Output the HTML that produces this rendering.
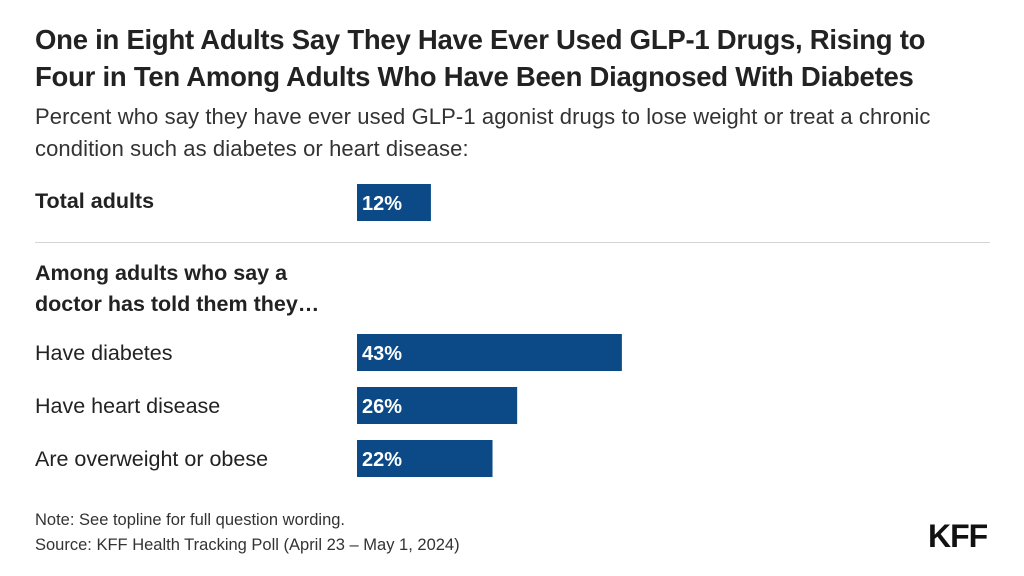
<!DOCTYPE html>
<html><head><meta charset="utf-8">
<style>
body{margin:0;width:1024px;height:576px;background:#fff;font-family:"Liberation Sans",sans-serif;color:#222;position:relative;overflow:hidden}
.t{position:absolute;left:35px;white-space:nowrap}
#title{top:21px;font-size:27.5px;font-weight:bold;line-height:37px;letter-spacing:-0.25px;color:#222}
#sub{top:101px;font-size:22px;line-height:32px;color:#333;letter-spacing:0.1px}
.lab{position:absolute;left:35px;font-size:21.5px;color:#222;white-space:nowrap;letter-spacing:0px}
#note{top:508px;font-size:16.5px;line-height:25px;color:#333;letter-spacing:0px}
#logo{position:absolute;left:928px;top:518px;font-size:32px;font-weight:bold;color:#111;letter-spacing:-1px}
</style></head><body>
<div id="title" class="t">One in Eight Adults Say They Have Ever Used GLP-1 Drugs, Rising to<br>Four in Ten Among Adults Who Have Been Diagnosed With Diabetes</div>
<div id="sub" class="t">Percent who say they have ever used GLP-1 agonist drugs to lose weight or treat a chronic<br>condition such as diabetes or heart disease:</div>
<div class="lab" style="top:189px;font-weight:bold">Total adults</div>
<div style="position:absolute;left:35px;top:242px;width:955px;height:1px;background:#d4d4d4"></div>
<div class="lab" style="top:258px;font-weight:bold;line-height:31px">Among adults who say a<br>doctor has told them they…</div>
<div class="lab" style="top:341px">Have diabetes</div>
<div class="lab" style="top:394px">Have heart disease</div>
<div class="lab" style="top:447px">Are overweight or obese</div>
<svg id="chart" width="1024" height="576" style="position:absolute;left:0;top:0"></svg>
<div id="note" class="t">Note: See topline for full question wording.<br>Source: KFF Health Tracking Poll (April 23 – May 1, 2024)</div>
<div id="logo">KFF</div>
<script>
const categories=["Total adults","Have diabetes","Have heart disease","Are overweight or obese"];
const values=[12,43,26,22];
const labels=["12%","43%","26%","22%"];
const rowTops=[184,334,387,440];
const svg=document.getElementById('chart');
const NS="http://www.w3.org/2000/svg";
const x0=357;
function xs(v){return v*6.16;}
values.forEach((v,i)=>{
 const r=document.createElementNS(NS,'rect');
 r.setAttribute('x',x0);r.setAttribute('y',rowTops[i]);
 r.setAttribute('width',xs(v));r.setAttribute('height',37);
 r.setAttribute('fill','#0b4a87');
 
 
 svg.appendChild(r);
 const t=document.createElementNS(NS,'text');
 t.setAttribute('x',x0+5);t.setAttribute('y',rowTops[i]+26);
 t.setAttribute('fill','#fff');t.setAttribute('font-size','20');t.setAttribute('font-weight','bold');
 t.setAttribute('font-family','Liberation Sans, sans-serif');
 t.textContent=labels[i];
 
 
 svg.appendChild(t);
});
</script>
</body></html>
